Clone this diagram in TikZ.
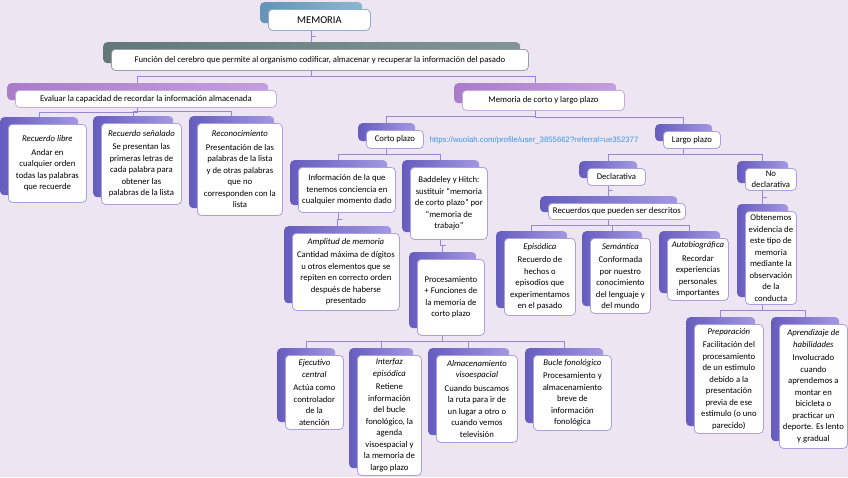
\documentclass[tikz,border=0pt]{standalone}
\usepackage{fontspec}
\setmainfont{Carlito}
\newfontfamily\enlacefont{Liberation Sans}
\usetikzlibrary{calc}
\pgfdeclarelayer{fondo}
\pgfdeclarelayer{lineas}
\pgfsetlayers{fondo,lineas,main}
\definecolor{lila}{RGB}{238,229,243}
\definecolor{azulO}{RGB}{100,148,182}
\definecolor{azulC}{RGB}{140,182,206}
\definecolor{grisO}{RGB}{100,120,122}
\definecolor{grisC}{RGB}{130,148,150}
\definecolor{orqO}{RGB}{170,124,200}
\definecolor{orqC}{RGB}{196,158,222}
\definecolor{morO}{RGB}{102,92,190}
\definecolor{morC}{RGB}{162,152,226}
\definecolor{bordeA}{RGB}{140,176,200}
\definecolor{bordeG}{RGB}{150,160,162}
\definecolor{bordeO}{RGB}{198,170,226}
\definecolor{bordeM}{RGB}{170,160,224}
\definecolor{trazo}{RGB}{150,136,214}
\definecolor{azulenlace}{RGB}{60,150,228}
\newcommand{\cuerpo}{\fontsize{8.7}{11.5}\selectfont}
\newcommand{\caja}[7]{%
  \node (#1-t) [pestana, pest #2, minimum width=#5, minimum height=#6] at (#3-8,#4-7) {};
  \node (#1) [caja, marco #2, minimum width=#5, minimum height=#6] at (#3,#4) {#7};
}
\newcommand{\rama}[2]{%
  \draw [linea] (#1-t.center) |- ($(#1.south)!.5!(#2-t.north)$) -| (#2-t.center);
}
\begin{document}
\begin{tikzpicture}[x=1pt, y=-1pt,
  pestana/.style={rounded corners=4pt, inner sep=0pt, anchor=north west},
  caja/.style={draw, fill=white, rounded corners=4pt, line width=0.8pt, align=center, inner sep=1.5pt, anchor=north west, font=\cuerpo},
  pest azul/.style={left color=azulO, right color=azulC},
  pest gris/.style={left color=grisO, right color=grisC},
  pest orq/.style={left color=orqO, right color=orqC},
  pest mor/.style={left color=morO, right color=morC},
  marco azul/.style={draw=bordeA},
  marco gris/.style={draw=bordeG},
  marco orq/.style={draw=bordeO},
  marco mor/.style={draw=bordeM},
  linea/.style={draw=trazo, line width=0.9pt},
  enlace/.style={font=\enlacefont\fontsize{7.8}{9}\selectfont, text=azulenlace}]
\begin{pgfonlayer}{fondo}
\fill [lila] (0,0) rectangle (848,477);
\end{pgfonlayer}
\useasboundingbox (0,0) rectangle (848,477);

\caja{memoria}{azul}{268}{9}{102}{21}{\fontsize{10.5}{12}\selectfont MEMORIA}
\caja{funcion}{gris}{111}{49}{417}{21}{Función del cerebro que permite al organismo codificar, almacenar y recuperar la información del pasado}
\caja{evaluar}{orq}{15}{90}{261}{17}{Evaluar la capacidad de recordar la información almacenada}
\caja{cortolargo}{orq}{462}{90}{162}{20}{Memoria de corto y largo plazo}

\caja{libre}{mor}{8}{124}{78}{78}{\textit{Recuerdo libre}\\[2pt] Andar en\\ cualquier orden\\ todas las palabras\\ que recuerde}
\caja{senalado}{mor}{101}{123}{80}{81}{\textit{Recuerdo señalado}\\[2pt] Se presentan las\\ primeras letras de\\ cada palabra para\\ obtener las\\ palabras de la lista}
\caja{reconoc}{mor}{197}{123}{85}{92}{\textit{Reconocimiento}\\[2pt] Presentación de las\\ palabras de la lista\\ y de otras palabras\\ que no\\ corresponden con la\\ lista}

\caja{corto}{mor}{366}{130}{57}{18}{Corto plazo}
\caja{largo}{mor}{663}{131}{57}{17}{Largo plazo}
\node (enlace) [enlace] at (534,140) {https://wuolah.com/profile/user\_3855662?referral=ue352377};

\caja{info}{mor}{298}{167}{97}{45}{Información de la que\\ tenemos conciencia en\\ cualquier momento dado}
\caja{baddeley}{mor}{410}{167}{77}{72}{Baddeley y Hitch:\\ sustituir “memoria\\ de corto plazo” por\\ “memoria de\\ trabajo”}
\caja{amplitud}{mor}{292}{233}{107}{77}{\textit{Amplitud de memoria}\\[2pt] Cantidad máxima de dígitos\\ u otros elementos que se\\ repiten en correcto orden\\ después de haberse\\ presentado}
\caja{proces}{mor}{417}{259}{67}{76}{Procesamiento\\ + Funciones de\\ la memoria de\\ corto plazo}

\caja{ejecutivo}{mor}{285}{355}{58}{74}{\textit{Ejecutivo}\\ \textit{central}\\[2pt] Actúa como\\ controlador\\ de la\\ atención}
\caja{interfaz}{mor}{357}{355}{64}{120}{\textit{Interfaz}\\ \textit{episódica}\\[2pt] Retiene\\ información\\ del bucle\\ fonológico, la\\ agenda\\ visoespacial y\\ la memoria de\\ largo plazo}
\caja{almac}{mor}{436}{355}{81}{87}{\textit{Almacenamiento}\\ \textit{visoespacial}\\[2pt] Cuando buscamos\\ la ruta para ir de\\ un lugar a otro o\\ cuando vemos\\ televisión}
\caja{bucle}{mor}{533}{355}{78}{75}{\textit{Bucle fonológico}\\[2pt] Procesamiento y\\ almacenamiento\\ breve de\\ información\\ fonológica}

\caja{declar}{mor}{587}{168}{58}{17}{Declarativa}
\caja{nodecl}{mor}{745}{168}{51}{22}{No\\ declarativa}
\caja{recuerdos}{mor}{548}{203}{137}{16}{Recuerdos que pueden ser descritos}
\caja{episod}{mor}{504}{238}{71}{77}{\textit{Episódica}\\[2pt] Recuerdo de\\ hechos o\\ episodios que\\ experimentamos\\ en el pasado}
\caja{seman}{mor}{590}{238}{60}{75}{\textit{Semántica}\\[2pt] Conformada\\ por nuestro\\ conocimiento\\ del lenguaje y\\ del mundo}
\caja{autob}{mor}{667}{238}{61}{62}{\textit{Autobiográfica}\\[2pt] Recordar\\ experiencias\\ personales\\ importantes}
\caja{obten}{mor}{745}{211}{51}{93}{Obtenemos\\ evidencia de\\ este tipo de\\ memoria\\ mediante la\\ observación\\ de la\\ conducta}
\caja{prepar}{mor}{694}{324}{69}{109}{\textit{Preparación}\\[2pt] Facilitación del\\ procesamiento\\ de un estimulo\\ debido a la\\ presentación\\ previa de ese\\ estimulo (o uno\\ parecido)}
\caja{aprend}{mor}{779}{324}{68}{124}{\textit{Aprendizaje de}\\ \textit{habilidades}\\[2pt] Involucrado\\ cuando\\ aprendemos a\\ montar en\\ bicicleta o\\ practicar un\\ deporte. Es lento\\ y gradual}

\begin{pgfonlayer}{lineas}
\rama{memoria}{funcion}
\rama{funcion}{evaluar}
\rama{funcion}{cortolargo}
\rama{evaluar}{libre}
\rama{evaluar}{senalado}
\rama{evaluar}{reconoc}
\rama{cortolargo}{corto}
\rama{cortolargo}{largo}
\rama{corto}{info}
\rama{corto}{baddeley}
\rama{info}{amplitud}
\rama{baddeley}{proces}
\rama{proces}{ejecutivo}
\rama{proces}{interfaz}
\rama{proces}{almac}
\rama{proces}{bucle}
\rama{largo}{declar}
\rama{largo}{nodecl}
\rama{declar}{recuerdos}
\rama{recuerdos}{episod}
\rama{recuerdos}{seman}
\rama{recuerdos}{autob}
\rama{nodecl}{obten}
\rama{obten}{prepar}
\rama{obten}{aprend}
\end{pgfonlayer}
\end{tikzpicture}
\end{document}
